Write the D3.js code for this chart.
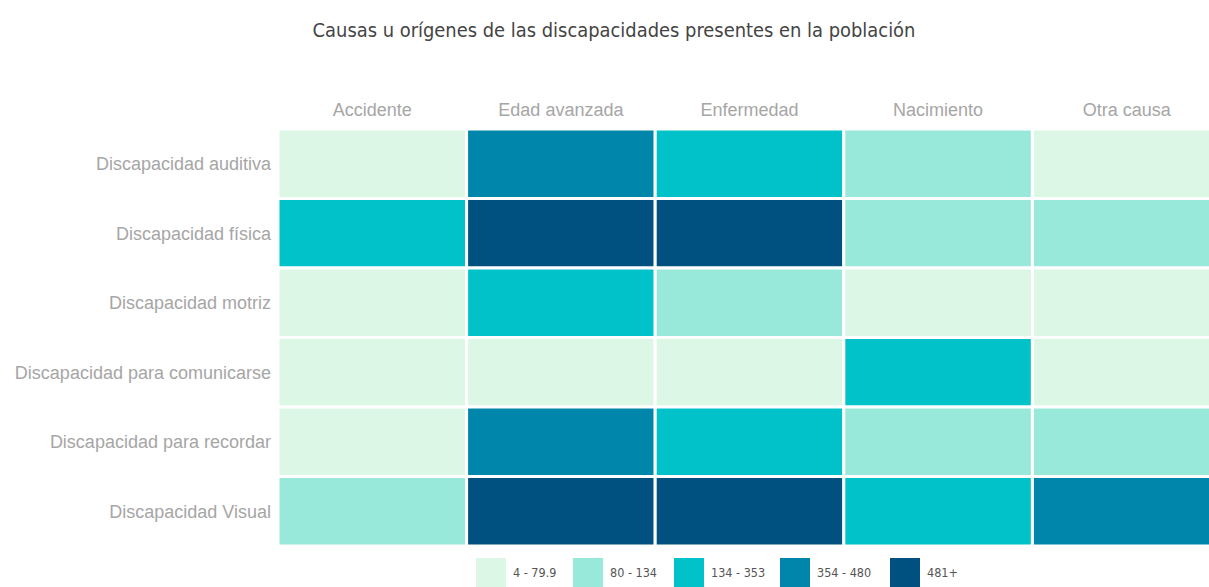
<!DOCTYPE html>
<html>
<head>
<meta charset="utf-8">
<script src="https://cdn.jsdelivr.net/npm/d3@7"></script>
<style>
  body { margin: 0; background: #fff; overflow: hidden; }
  svg { display: block; }
</style>
</head>
<body>
<script>
  // Data
  const causes = ["Accidente", "Edad avanzada", "Enfermedad", "Nacimiento", "Otra causa"];
  const disabilities = [
    "Discapacidad auditiva",
    "Discapacidad física",
    "Discapacidad motriz",
    "Discapacidad para comunicarse",
    "Discapacidad para recordar",
    "Discapacidad Visual"
  ];
  // one array per row, in the order of causes
  const auditiva = [30, 410, 220, 95, 25];
  const fisica = [180, 780, 620, 110, 100];
  const motriz = [45, 160, 90, 40, 35];
  const comunicarse = [20, 35, 50, 200, 15];
  const recordar = [25, 380, 190, 100, 85];
  const visual = [120, 700, 560, 260, 400];

  // Legend bins
  const thresholds = [80, 134, 354, 481];
  const binLabels = ["4 - 79.9", "80 - 134", "134 - 353", "354 - 480", "481+"];
  const colors = ["#dcf7e6", "#98e9da", "#00c2c8", "#0086ab", "#00517f"];

  // Constants
  const width = 1209;
  const height = 587;
  const condensed = "'DejaVu Sans Condensed', 'DejaVu Sans', sans-serif";
  const plain = "'Liberation Sans', Arial, sans-serif";

  const rows = [auditiva, fisica, motriz, comunicarse, recordar, visual];
  const cells = [];
  rows.forEach((vals, i) => vals.forEach((v, j) => cells.push({row: disabilities[i], col: causes[j], value: v})));

  const x = d3.scaleBand().domain(causes).range([278, 1221]);
  const y = d3.scaleBand().domain(disabilities).range([129, 546]);
  const color = d3.scaleThreshold().domain(thresholds).range(colors);

  const svg = d3.select("body").append("svg")
      .attr("width", width)
      .attr("height", height);

  // Title
  svg.append("text")
      .attr("x", 614)
      .attr("y", 37)
      .attr("text-anchor", "middle")
      .attr("font-family", condensed)
      .attr("font-size", 19.9)
      .attr("fill", "#444")
      .text("Causas u orígenes de las discapacidades presentes en la población");

  // Cells
  svg.append("g")
    .selectAll("rect")
    .data(cells)
    .join("rect")
      .attr("x", d => x(d.col))
      .attr("y", d => y(d.row))
      .attr("width", x.bandwidth())
      .attr("height", y.bandwidth())
      .attr("fill", d => color(d.value))
      .attr("stroke", "#fff")
      .attr("stroke-width", 3);

  // Column labels
  svg.append("g")
    .selectAll("text")
    .data(causes)
    .join("text")
      .attr("x", d => x(d) + x.bandwidth() / 2)
      .attr("y", 116)
      .attr("text-anchor", "middle")
      .attr("font-family", plain)
      .attr("font-size", 18)
      .attr("fill", "#a6a6a6")
      .text(d => d);

  // Row labels
  svg.append("g")
    .selectAll("text")
    .data(disabilities)
    .join("text")
      .attr("x", 271)
      .attr("y", d => y(d) + y.bandwidth() / 2)
      .attr("dy", "0.35em")
      .attr("text-anchor", "end")
      .attr("font-family", plain)
      .attr("font-size", 18)
      .attr("fill", "#a6a6a6")
      .text(d => d);

  // Legend
  const legendX = [476, 573, 674, 780, 890];
  const legend = svg.append("g")
    .selectAll("g")
    .data(binLabels)
    .join("g")
      .attr("transform", (d, i) => `translate(${legendX[i]},558)`);
  legend.append("rect")
      .attr("width", 30)
      .attr("height", 30)
      .attr("fill", (d, i) => colors[i]);
  legend.append("text")
      .attr("x", 37)
      .attr("y", 15)
      .attr("dy", "0.35em")
      .attr("font-family", condensed)
      .attr("font-size", 12.5)
      .attr("fill", "#555")
      .text(d => d);
</script>
</body>
</html>
